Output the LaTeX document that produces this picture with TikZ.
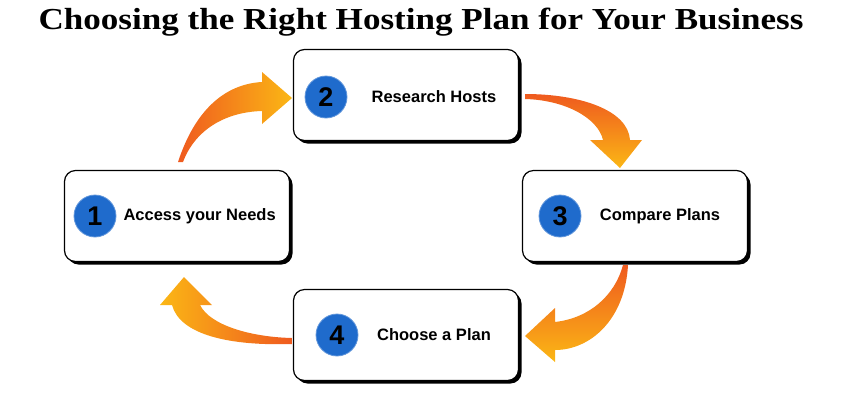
\documentclass[tikz,border=0pt]{standalone}
\usepackage{fontspec}
\setmainfont{Liberation Serif}
\setsansfont{Liberation Sans}
\usetikzlibrary{shadows}
\definecolor{aorange}{HTML}{EF5A1F}
\definecolor{ayellow}{HTML}{FBB715}
\definecolor{cblue}{HTML}{1F6BCC}
\begin{document}
\begin{tikzpicture}[x=1pt,y=-1pt,
  stepbox/.style={draw=black,line width=1.2pt,rounded corners=11pt,fill=white,minimum width=225pt,minimum height=91pt,
    drop shadow={shadow xshift=3pt,shadow yshift=-3pt,fill=black,opacity=1}},
  num/.style={circle,fill=cblue,draw=cblue!70!white,line width=0.8pt,minimum size=42pt,inner sep=0pt,font=\sffamily\bfseries\fontsize{27}{27}\selectfont},
  lab/.style={font=\sffamily\bfseries\fontsize{16.5}{18}\selectfont}]
\useasboundingbox (0,0) rectangle (850,400);
\node (title) at (421,22) {\scalebox{1.15}[1]{\bfseries\fontsize{30.5}{33}\selectfont Choosing the Right Hosting Plan for Your Business}};
\node[stepbox] (b1) at (177,216) {};
\node[stepbox] (b2) at (406,95) {};
\node[stepbox] (b3) at (635,216) {};
\node[stepbox] (b4) at (406,335) {};
\node[num] (n1) at (95,216) {1};
\node[lab,anchor=west] (t1) at (120,216) {Access your Needs};
\node[num] (n2) at (326,97) {2};
\node[lab] (t2) at (434,97) {Research Hosts};
\node[num] (n3) at (560,216) {3};
\node[lab] (t3) at (660,216) {Compare Plans};
\node[num] (n4) at (337,335) {4};
\node[lab] (t4) at (434,335) {Choose a Plan};
% arrows
\shade[left color=aorange,right color=ayellow]
  (178,162) .. controls (195,110) and (225,84) .. (262,82) -- (262,72) -- (292,98) -- (262,124) -- (262,111)
  .. controls (225,112) and (195,130) .. (183,162) -- cycle;
\shade[top color=aorange,bottom color=ayellow]
  (525,94) .. controls (580,94) and (628,110) .. (630,140) -- (642,140) -- (620,168) -- (590,140) -- (603,140)
  .. controls (598,118) and (565,100) .. (525,99) -- cycle;
\shade[top color=aorange,bottom color=ayellow]
  (628,265) .. controls (625,320) and (590,350) .. (555,350) -- (555,362) -- (525,336) -- (555,308) -- (555,322)
  .. controls (590,318) and (615,295) .. (623,265) -- cycle;
\shade[left color=ayellow,right color=aorange]
  (292,344) .. controls (230,346) and (180,335) .. (172,305) -- (160,305) -- (184,277) -- (212,305) -- (200,305)
  .. controls (210,325) and (250,337) .. (292,338) -- cycle;
\end{tikzpicture}
\end{document}
